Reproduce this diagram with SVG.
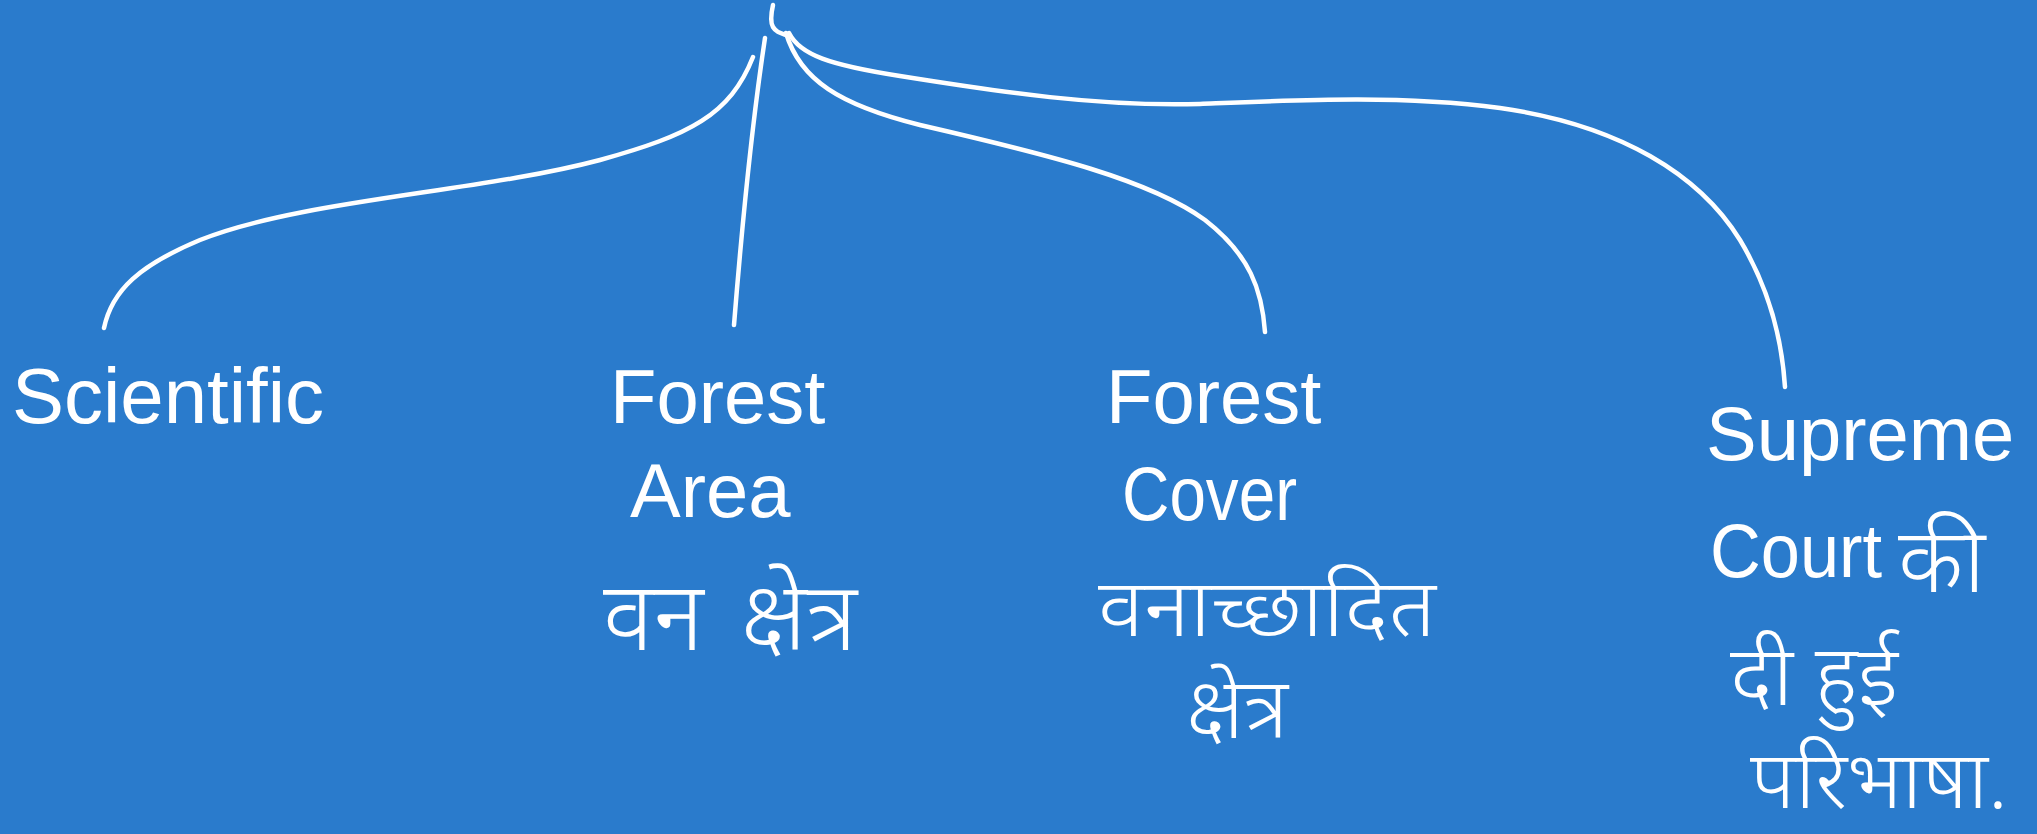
<svg xmlns="http://www.w3.org/2000/svg" width="2037" height="834" viewBox="0 0 2037 834">
<style>
.bg{fill:#2a7bcc}
.ln{fill:none;stroke:#ffffff;stroke-width:4.5;stroke-linecap:round;stroke-linejoin:round}
.en{fill:#ffffff;font-family:"Liberation Sans","Noto Sans",Arial,sans-serif;font-size:76px}
.hi{fill:#ffffff;font-family:"Noto Sans","Noto Sans Devanagari","Lohit Devanagari",sans-serif;font-size:84px;font-weight:300}
</style>
<rect class="bg" x="0" y="0" width="2037" height="834"/>
<g id="connectors">
<path class="ln" d="M773,5 C771,14 770,22 773,27 C776,32 780,33 786,35"/>
<path class="ln" d="M753,57 C730,115 690,135 600,160 C480,192 300,200 200,240 C140,265 112,290 104,328"/>
<path class="ln" d="M765,38 Q748,150 734,325"/>
<path class="ln" d="M786,33 C800,80 840,105 920,125 C1050,155 1150,180 1205,220 C1250,255 1262,290 1265,332"/>
<path class="ln" d="M789,33 C800,55 830,65 900,76 C1000,92 1100,107 1200,104 C1300,100 1400,95 1500,108 C1620,125 1700,175 1740,240 C1770,290 1782,340 1785,387"/>
</g>
<g id="node-scientific">
<text class="en" x="12" y="423" style="font-size:78px">Scientific</text>
</g>
<g id="node-forest-area">
<text class="en" x="610" y="423">Forest</text>
<text class="en" x="630" y="517">Area</text>
<text class="hi" x="603" y="650" style="font-size:96px;word-spacing:12px">वन क्षेत्र</text>
</g>
<g id="node-forest-cover">
<text class="en" x="1106" y="423">Forest</text>
<text class="en" x="1122" y="520" textLength="175" lengthAdjust="spacingAndGlyphs">Cover</text>
<text class="hi" x="1098" y="636" style="font-size:80px" textLength="338" lengthAdjust="spacingAndGlyphs">वनाच्छादित</text>
<text class="hi" x="1186" y="738">क्षेत्र</text>
</g>
<g id="node-supreme-court">
<text class="en" x="1706" y="460">Supreme</text>
<text class="en" x="1710" y="577" textLength="172" lengthAdjust="spacingAndGlyphs">Court</text>
<text class="hi" x="1898" y="592" style="font-size:90px">की</text>
<text class="hi" x="1730" y="705">दी हुई</text>
<text class="hi" x="1750" y="808" style="font-size:80px" textLength="258" lengthAdjust="spacingAndGlyphs">परिभाषा.</text>
</g>
</svg>
